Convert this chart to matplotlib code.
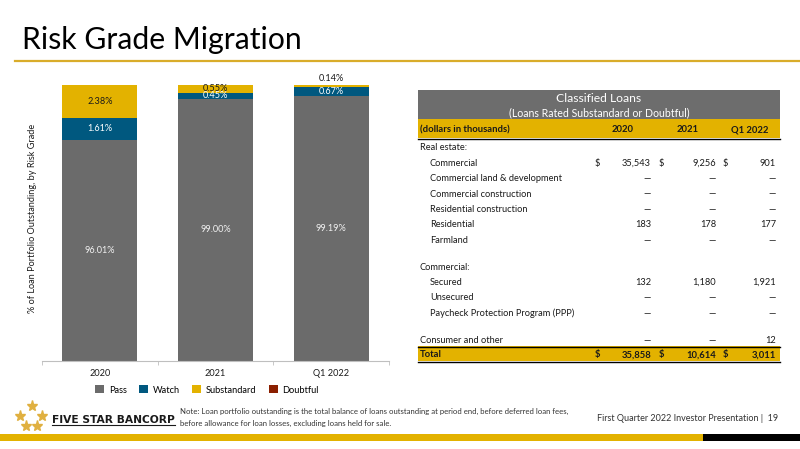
import matplotlib
matplotlib.use('Agg')
import matplotlib.pyplot as plt
from matplotlib.patches import Rectangle
from matplotlib.lines import Line2D

plt.rcParams['font.family'] = ['Lato', 'DejaVu Sans']

# chart data
categories = ['2020', '2021', 'Q1 2022']
pass_pct = [96.01, 99.00, 99.19]
watch_pct = [1.61, 0.45, 0.67]
subst_pct = [2.38, 0.55, 0.14]
doubt_pct = [0.00, 0.00, 0.00]
grades = ['Pass', 'Watch', 'Substandard', 'Doubtful']

# table data
table_cols = ['2020', '2021', 'Q1 2022']
row_labels = ['Real estate:', 'Commercial', 'Commercial land & development',
              'Commercial construction', 'Residential construction',
              'Residential', 'Farmland', '', 'Commercial:', 'Secured',
              'Unsecured', 'Paycheck Protection Program (PPP)', '',
              'Consumer and other']
row_indent = [0, 1, 1, 1, 1, 1, 1, 0, 0, 1, 1, 1, 0, 0]
row_dollar = [0, 1, 0, 0, 0, 0, 0, 0, 0, 0, 0, 0, 0, 0]
vals_2020 = ['', '35,543', '—', '—', '—', '183', '—', '', '', '132', '—', '—', '', '—']
vals_2021 = ['', '9,256', '—', '—', '—', '178', '—', '', '', '1,180', '—', '—', '', '—']
vals_q1 = ['', '901', '—', '—', '—', '177', '—', '', '', '1,921', '—', '—', '', '12']
totals = ['35,858', '10,614', '3,011']

GOLD = '#D9AC2A'
PASS_C = '#6B6B6B'
WATCH_C = '#00587F'
SUBST_C = '#E3B200'
DOUBT_C = '#8B1F00'
TXT = '#1A1A1A'

W, H = 800, 449
def fx(px):
    return px / W
def fy(py):
    return 1 - py / H
def by(py, fs):
    # baseline position for text visually centred on py
    return fy(py + 0.36 * fs * 100 / 72)

fig = plt.figure(figsize=(8, 4.49), dpi=100)

# title and rule
fig.text(fx(22), fy(40), 'Risk Grade Migration', fontsize=21.7, color='black',
         va='center', ha='left')
fig.add_artist(Line2D([fx(15), 1], [fy(61), fy(61)], color=GOLD, lw=1.6))

# stacked bars
ax = fig.add_axes([fx(42), fy(361), fx(389) - fx(42), fy(85) - fy(361)])
x = list(range(len(categories)))
b1 = [p + w for p, w in zip(pass_pct, watch_pct)]
b2 = [v + s for v, s in zip(b1, subst_pct)]
bw = 0.65
h_pass = ax.bar(x, pass_pct, bw, color=PASS_C, label=grades[0])
h_watch = ax.bar(x, watch_pct, bw, bottom=pass_pct, color=WATCH_C, label=grades[1])
h_subst = ax.bar(x, subst_pct, bw, bottom=b1, color=SUBST_C, label=grades[2])
h_doubt = ax.bar(x, doubt_pct, bw, bottom=b2, color=DOUBT_C, label=grades[3])
ax.set_ylim(80, 100)
ax.set_xlim(-0.5, 2.5)
ymin = ax.get_ylim()[0]

LFS = 6.6
for i in x:
    ax.text(i, (ymin + pass_pct[i]) / 2, f'{pass_pct[i]:.2f}%', ha='center',
            va='center', color='#F2F2F2', fontsize=LFS)
    ax.text(i, pass_pct[i] + watch_pct[i] / 2, f'{watch_pct[i]:.2f}%', ha='center',
            va='center', color='white', fontsize=LFS)
    if subst_pct[i] < 0.3:
        ax.annotate(f'{subst_pct[i]:.2f}%', (i, b2[i]), xytext=(0, 5),
                    textcoords='offset points', ha='center', va='center',
                    color=TXT, fontsize=LFS)
    else:
        ax.text(i, b1[i] + subst_pct[i] / 2, f'{subst_pct[i]:.2f}%', ha='center',
                va='center', color=TXT, fontsize=LFS)

for s in ['left', 'right', 'top']:
    ax.spines[s].set_visible(False)
ax.spines['bottom'].set_color('#BFBFBF')
ax.set_yticks([])
ax.set_xticks(x)
ax.set_xticklabels(categories, fontsize=6.6, color=TXT)
ax.set_xticks([-0.5, 0.5, 1.5, 2.5], minor=True)
ax.tick_params(axis='x', which='major', length=0, pad=6)
ax.tick_params(axis='x', which='minor', length=3, color='#BFBFBF')

fig.text(fx(33), fy(218), '% of Loan Portfolio Outstanding, by Risk Grade',
         rotation=90, ha='center', va='center', fontsize=6.6, color=TXT)

fig.legend([h_pass, h_watch, h_subst, h_doubt], grades, loc='center',
           bbox_to_anchor=(fx(207), fy(390)), ncol=4, frameon=False,
           fontsize=6.7, handlelength=0.95, handleheight=0.95,
           handletextpad=0.55, columnspacing=1.3)

# table
tl, tr = 418, 780
FS = 6.7
FB = 6.8
fig.add_artist(Rectangle((fx(tl), fy(119)), fx(tr) - fx(tl), fy(90) - fy(119),
                         transform=fig.transFigure, color='#6D6D6D', lw=0))
fig.text(fx((tl + tr) / 2), by(98, 8.7), 'Classified Loans', ha='center',
         va='baseline', color='white', fontsize=8.7)
fig.text(fx((tl + tr) / 2), by(112.5, 7.6), '(Loans Rated Substandard or Doubtful)',
         ha='center', va='baseline', color='white', fontsize=7.6)
fig.add_artist(Rectangle((fx(tl), fy(138)), fx(tr) - fx(tl), fy(119) - fy(138),
                         transform=fig.transFigure, color=SUBST_C, lw=0))
fig.add_artist(Line2D([fx(tl), fx(tr)], [fy(138.5), fy(138.5)], color='black', lw=1))

col_dollar = [595, 659, 723]
col_right = [651, 716, 776]
col_center = [623, 688, 750]
fig.text(fx(420), by(129, FB), '(dollars in thousands)', ha='left', va='baseline',
         fontsize=FB, fontweight='bold', color=TXT)
for c, name in enumerate(table_cols):
    fig.text(fx(col_center[c]), by(129, FB), name, ha='center', va='baseline',
             fontsize=FB, fontweight='bold', color=TXT)

cols = [vals_2020, vals_2021, vals_q1]
y = 147
for r, lab in enumerate(row_labels):
    if lab == '':
        y += 11.5
        continue
    fig.text(fx(420 + 10 * row_indent[r]), by(y, FS), lab, ha='left',
             va='baseline', fontsize=FS, color=TXT)
    for c in range(3):
        if row_dollar[r]:
            fig.text(fx(col_dollar[c]), by(y, FS), '$', ha='left', va='baseline',
                     fontsize=FS, color=TXT)
        fig.text(fx(col_right[c]), by(y, FS), cols[c][r], ha='right',
                 va='baseline', fontsize=FS, color=TXT)
    y += 15.4

fig.add_artist(Rectangle((fx(tl), fy(361)), fx(tr) - fx(tl), fy(346.5) - fy(361),
                         transform=fig.transFigure, color=SUBST_C, lw=0))
fig.add_artist(Line2D([fx(tl), fx(tr)], [fy(346.5), fy(346.5)], color='black', lw=1))
fig.add_artist(Line2D([fx(tl), fx(tr)], [fy(361.5), fy(361.5)], color='black', lw=1))
fig.text(fx(420), by(354, FB), 'Total', ha='left', va='baseline', fontsize=FB,
         fontweight='bold', color=TXT)
for c in range(3):
    fig.text(fx(col_dollar[c]), by(354, FB), '$', ha='left', va='baseline',
             fontsize=FB, fontweight='bold', color=TXT)
    fig.text(fx(col_right[c]), by(354, FB), totals[c], ha='right', va='baseline',
             fontsize=FB, fontweight='bold', color=TXT)

# footer
for sx, sy in [(31.7, 406), (20, 415.7), (41.7, 415.7), (25.7, 425.7), (36.7, 425.7)]:
    fig.add_artist(Line2D([fx(sx)], [fy(sy)], marker='*', markersize=8,
                          color='#E0B040', lw=0))
fig.text(fx(52), by(419, 7.65), 'FIVE STAR BANCORP', ha='left',
         va='baseline', fontsize=7.65, fontweight='bold', color=TXT,
         family='DejaVu Sans')
fig.add_artist(Line2D([fx(52), fx(175)], [fy(425), fy(425)], color=TXT, lw=0.8))
fig.text(fx(180), by(411, 5.55), 'Note: Loan portfolio outstanding is the total balance of loans '
         'outstanding at period end, before deferred loan fees,', ha='left',
         va='baseline', fontsize=5.55, color='#333333')
fig.text(fx(180), by(423, 5.55), 'before allowance for loan losses, excluding loans held for sale.',
         ha='left', va='baseline', fontsize=5.55, color='#333333')
fig.text(fx(778), by(418, 6.45), 'First Quarter 2022 Investor Presentation |  19',
         ha='right', va='baseline', fontsize=6.45, color='#333333')
fig.add_artist(Rectangle((0, fy(441)), fx(703), fy(434) - fy(441),
                         transform=fig.transFigure, color=SUBST_C, lw=0))
fig.add_artist(Rectangle((fx(703), fy(441)), 1 - fx(703), fy(434) - fy(441),
                         transform=fig.transFigure, color='black', lw=0))

fig.savefig('out.png', dpi=100)
